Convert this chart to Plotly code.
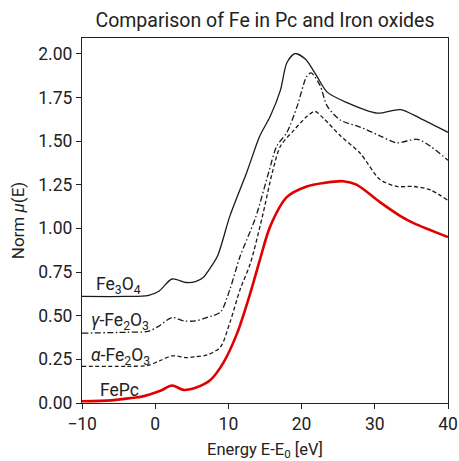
import plotly.graph_objects as go

# Fe K-edge XANES spectra, normalised absorption vs relative energy
e_fe3o4 = [-10, -4, -1, 0.5, 2.3, 4.2, 5.5, 6.6, 7.3, 8.5, 10.2, 12.5, 14.3, 15.7,
           17.1, 18.0, 19.1, 20.5, 22.1, 23.5, 26.2, 30.3, 33.5, 36.2, 40]
mu_fe3o4 = [0.61, 0.61, 0.615, 0.64, 0.71, 0.69, 0.695, 0.72, 0.76, 0.84, 1.07, 1.32,
            1.53, 1.64, 1.79, 1.95, 2.00, 1.97, 1.87, 1.78, 1.72, 1.66, 1.68, 1.63, 1.55]

e_gamma = [-10, -4, -1, 0.5, 2.3, 3.9, 5.5, 7.1, 8.9, 10.2, 11.6, 13.7, 15.5, 16.6,
           18.0, 19.4, 20.7, 21.3, 22.5, 23.5, 25.3, 28, 30.7, 33, 35.8, 37.6, 40]
mu_gamma = [0.40, 0.405, 0.41, 0.44, 0.49, 0.47, 0.47, 0.49, 0.52, 0.65, 0.84, 1.06,
            1.32, 1.47, 1.55, 1.70, 1.87, 1.89, 1.82, 1.70, 1.62, 1.58, 1.53, 1.49,
            1.51, 1.47, 1.39]

e_alpha = [-10, -4, -1, 0.5, 2.3, 4.3, 5.5, 7.1, 8.9, 10.2, 11.6, 13.0, 14.6, 16.0,
           17.1, 18.9, 20.7, 21.8, 23.0, 25.3, 28, 30.7, 33, 35.3, 37.6, 40]
mu_alpha = [0.21, 0.21, 0.215, 0.24, 0.27, 0.26, 0.265, 0.275, 0.32, 0.46, 0.65, 0.80,
            1.06, 1.32, 1.47, 1.56, 1.64, 1.67, 1.63, 1.53, 1.43, 1.28, 1.24, 1.24,
            1.22, 1.16]

e_fepc = [-10, -6, -3, -2, 0.7, 2.3, 3.9, 5.7, 7.5, 9.3, 11.2, 13.0, 14.3, 15.7, 18,
          20.7, 23, 25.7, 27.5, 30.7, 33.5, 35.3, 40]
mu_fepc = [0.01, 0.015, 0.03, 0.035, 0.07, 0.10, 0.075, 0.09, 0.13, 0.23, 0.40, 0.63,
           0.82, 1.01, 1.18, 1.24, 1.26, 1.27, 1.25, 1.15, 1.07, 1.03, 0.95]

# curve labels: text, x, y
labels = ["Fe<sub>3</sub>O<sub>4</sub>", "<i>γ</i>-Fe<sub>2</sub>O<sub>3</sub>",
          "<i>α</i>-Fe<sub>2</sub>O<sub>3</sub>", "FePc"]
label_x = [-8.3, -9.1, -9.1, -7.8]
label_y = [0.67, 0.465, 0.265, 0.075]

x_ticks = [-10, 0, 10, 20, 30, 40]
y_ticks = [0, 0.25, 0.5, 0.75, 1.0, 1.25, 1.5, 1.75, 2.0]

FONT = "Roboto"
INK = "#222"
fig = go.Figure()

line_kw = dict(shape="spline", smoothing=0.8)
fig.add_trace(go.Scatter(x=e_fe3o4, y=mu_fe3o4, mode="lines",
                         line=dict(color="#1a1a1a", width=1.3, **line_kw)))
fig.add_trace(go.Scatter(x=e_gamma, y=mu_gamma, mode="lines",
                         line=dict(color="#1a1a1a", width=1.3, dash="6px,2.5px,1.5px,2.5px", **line_kw)))
fig.add_trace(go.Scatter(x=e_alpha, y=mu_alpha, mode="lines",
                         line=dict(color="#1a1a1a", width=1.3, dash="4px,2.5px", **line_kw)))
fig.add_trace(go.Scatter(x=e_fepc, y=mu_fepc, mode="lines",
                         line=dict(color="#e00000", width=2.6, **line_kw)))

for txt, lx, ly in zip(labels, label_x, label_y):
    fig.add_annotation(x=lx, y=ly, xref="x", yref="y", text=txt, showarrow=False,
                       xanchor="left", yanchor="middle",
                       font=dict(family=FONT, size=17.5, color=INK))

axis_kw = dict(showline=True, linecolor=INK, linewidth=1.2, mirror=True,
               ticks="outside", ticklen=5, tickwidth=1.2, tickcolor=INK,
               showgrid=False, zeroline=False, automargin=False,
               tickfont=dict(family=FONT, size=17.5, color=INK))

fig.update_xaxes(range=[-10, 40], tickvals=x_ticks,
                 title=dict(text="Energy E-E<sub>0</sub> [eV]", standoff=12,
                            font=dict(family=FONT, size=16.5, color=INK)),
                 **axis_kw)
fig.update_yaxes(range=[0, 2.09], tickvals=y_ticks, tickformat=".2f",
                 title=dict(text="Norm <i>μ</i>(E)", standoff=9,
                            font=dict(family=FONT, size=17, color=INK)),
                 **axis_kw)

fig.update_layout(
    width=459, height=461,
    margin=dict(l=82, r=11, t=38, b=58, autoexpand=False),
    plot_bgcolor="white", paper_bgcolor="white",
    showlegend=False,
    title=dict(text="Comparison of Fe in Pc and Iron oxides", x=0.5, xref="paper",
               xanchor="center", yref="container", y=1 - 20 / 461, yanchor="middle",
               font=dict(family=FONT, size=19.5, color=INK)),
)

fig.write_html("out.html")
